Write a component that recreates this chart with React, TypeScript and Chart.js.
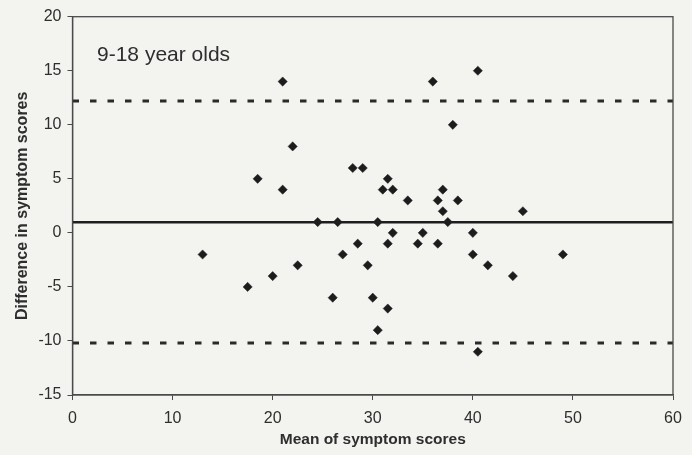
import React, { useEffect, useRef } from 'react';
import { Chart, registerables } from 'chart.js';

Chart.register(...registerables);

// Bland–Altman data: mean of two symptom scores vs their difference
const meanScores = [
  21, 22, 18.5, 21, 28, 29, 36, 40.5, 38, 31.5, 31, 32, 33.5, 36.5, 37, 38.5,
  37, 45, 24.5, 26.5, 30.5, 37.5, 32, 35, 40, 28.5, 31.5, 34.5, 36.5, 13, 27,
  40, 49, 22.5, 29.5, 41.5, 44, 20, 17.5, 26, 30, 31.5, 30.5, 40.5,
];
const diffScores = [
  14, 8, 5, 4, 6, 6, 14, 15, 10, 5, 4, 4, 3, 3, 4, 3,
  2, 2, 1, 1, 1, 1, 0, 0, 0, -1, -1, -1, -1, -2, -2,
  -2, -2, -3, -3, -3, -4, -4, -5, -6, -6, -7, -9, -11,
];

const meanDifference = 0.98;
const upperLimit = 12.2;
const lowerLimit = -10.2;

const xRange = [0, 60];
const yRange = [-15, 20];
const xStep = 10;
const yStep = 5;

const groupLabel = '9-18 year olds';
const labelAnchor = { x: 2.45, y: 16.4 };
const xTitle = 'Mean of symptom scores';
const yTitle = 'Difference in symptom scores';

const FONT = '"Liberation Sans", Arial, Helvetica, sans-serif';
const TEXT = '#2e2e2e';
const INK = '#1c1c1c';

export default function App() {
  const canvasRef = useRef<HTMLCanvasElement | null>(null);

  useEffect(() => {
    if (!canvasRef.current) return;
    const points = meanScores.map((m, i) => ({ x: m, y: diffScores[i] }));
    const hline = (v: number) => [
      { x: xRange[0], y: v },
      { x: xRange[1], y: v },
    ];

    const framePlugin = {
      id: 'frameAndLabel',
      afterDatasetsDraw(chart: any) {
        const { ctx, chartArea } = chart;
        const { left, top, right, bottom } = chartArea;
        ctx.save();
        ctx.strokeStyle = '#4a4a4a';
        ctx.lineWidth = 1.3;
        ctx.strokeRect(left, top, right - left, bottom - top);
        const xs = chart.scales.x;
        const ys = chart.scales.y;
        ctx.fillStyle = TEXT;
        ctx.font = `21px ${FONT}`;
        ctx.textAlign = 'left';
        ctx.textBaseline = 'middle';
        ctx.fillText(groupLabel, xs.getPixelForValue(labelAnchor.x), ys.getPixelForValue(labelAnchor.y));
        ctx.restore();
      },
    };

    const chart = new Chart(canvasRef.current, {
      type: 'scatter',
      data: {
        datasets: [
          {
            type: 'line',
            label: 'upper',
            data: hline(upperLimit),
            borderColor: '#2a2a2a',
            borderWidth: 3,
            borderDash: [6.5, 11],
            pointRadius: 0,
            fill: false,
          } as any,
          {
            type: 'line',
            label: 'lower',
            data: hline(lowerLimit),
            borderColor: '#2a2a2a',
            borderWidth: 3,
            borderDash: [6.5, 11],
            pointRadius: 0,
            fill: false,
          } as any,
          {
            type: 'line',
            label: 'mean',
            data: hline(meanDifference),
            borderColor: '#1e1e1e',
            borderWidth: 2.5,
            pointRadius: 0,
            fill: false,
          } as any,
          {
            type: 'scatter',
            label: 'difference',
            data: points,
            pointStyle: 'rectRot',
            pointRadius: 4.6,
            backgroundColor: INK,
            borderColor: INK,
            borderWidth: 0.5,
          },
        ],
      },
      options: {
        responsive: true,
        maintainAspectRatio: false,
        animation: false,
        layout: { padding: { top: 16.7, right: 19, left: 0, bottom: 0 } },
        plugins: {
          legend: { display: false },
          tooltip: { enabled: false },
        },
        scales: {
          x: {
            type: 'linear',
            min: xRange[0],
            max: xRange[1],
            ticks: {
              stepSize: xStep,
              color: TEXT,
              font: { family: FONT, size: 16 },
              padding: 9,
            },
            grid: {
              display: true,
              drawOnChartArea: false,
              drawTicks: true,
              tickLength: 5,
              color: '#4a4a4a',
            },
            border: { display: true, color: '#4a4a4a', width: 1.3 },
            title: {
              display: true,
              text: xTitle,
              color: TEXT,
              font: { family: FONT, size: 15.5, weight: 'bold' },
              padding: { top: 0, bottom: 6 },
            },
            afterFit(scale: any) {
              scale.height = 60;
            },
          },
          y: {
            type: 'linear',
            min: yRange[0],
            max: yRange[1],
            ticks: {
              stepSize: yStep,
              color: TEXT,
              font: { family: FONT, size: 16 },
              padding: 6,
            },
            grid: {
              display: true,
              drawOnChartArea: false,
              drawTicks: true,
              tickLength: 5,
              color: '#4a4a4a',
            },
            border: { display: true, color: '#4a4a4a', width: 1.3 },
            title: {
              display: true,
              text: yTitle,
              color: TEXT,
              font: { family: FONT, size: 16, weight: 'bold' },
              padding: { top: 13, bottom: 0 },
            },
            afterFit(scale: any) {
              scale.width = 72.5;
            },
          },
        },
      },
      plugins: [framePlugin],
    });

    return () => chart.destroy();
  }, []);

  return (
    <div
      style={{
        position: 'fixed',
        left: 0,
        top: 0,
        width: 692,
        height: 455,
        background: '#f3f3f0',
      }}
    >
      <canvas ref={canvasRef} />
    </div>
  );
}
